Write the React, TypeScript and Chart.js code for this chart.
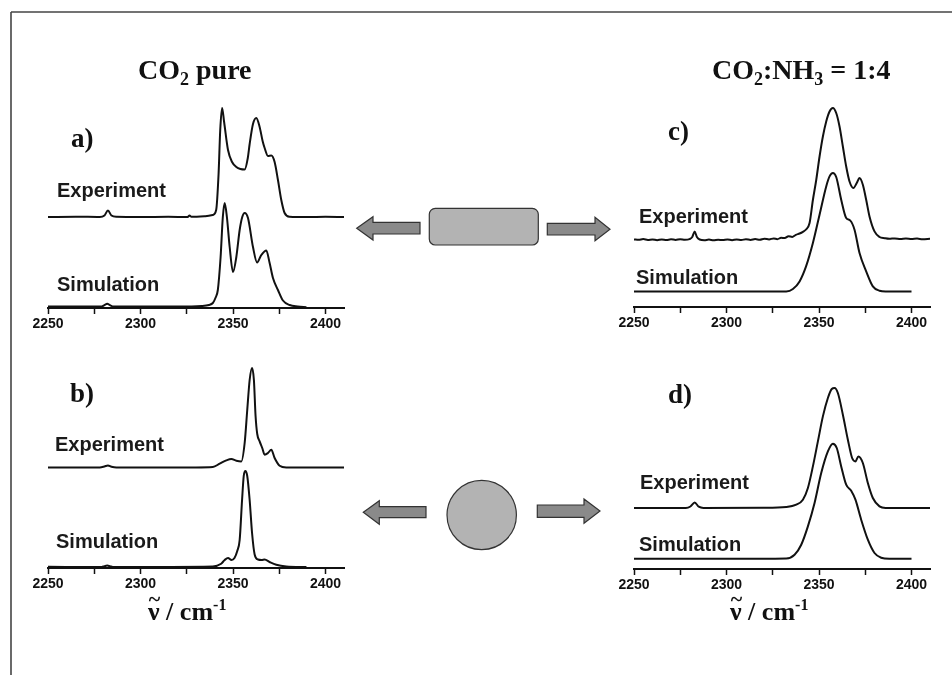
import React, { useEffect, useRef } from 'react';
import { Chart, registerables } from 'chart.js';

Chart.register(...registerables);

const FONT_SANS = '"Liberation Sans", Arial, sans-serif';
const FONT_SERIF = '"Liberation Serif", "Times New Roman", serif';

// wavenumber axis (cm-1)
const xMin = 2250;
const xMax = 2410;
const majorTicks = [2250, 2300, 2350, 2400];
const minorTicks = [2275, 2325, 2375];

type Pt = [number, number];

// a) CO2 pure, rectangular particle (intensity in arbitrary units, offset stacked)
const aExperiment: Pt[] = [
  [2250, 91], [2265, 91.3], [2278, 91], [2280.5, 92.5], [2282.4, 97.5], [2284.3, 92.5], [2287, 91.2],
  [2300, 91], [2315, 91.2], [2325.5, 91], [2326.5, 92.5], [2327.5, 91.2], [2335, 91.8], [2339, 93],
  [2340.9, 98], [2342.2, 134], [2343.1, 178], [2344.1, 200], [2345.2, 186], [2347.3, 158], [2349.5, 146],
  [2351.8, 141], [2354, 139], [2356.3, 138.5], [2358, 150], [2359, 164], [2360.8, 184], [2362.6, 190],
  [2364.4, 181], [2366, 167], [2367.1, 160], [2368.9, 152], [2370.7, 152.5], [2372.5, 146], [2374.3, 128],
  [2376.1, 108], [2377.9, 95], [2380.6, 91.3], [2390, 91], [2400, 91.2], [2410, 91],
];
const aSimulation: Pt[] = [
  [2250, 1.5], [2270, 1.5], [2279, 1.5], [2280.5, 2.8], [2282, 4.3], [2283.5, 2.8], [2285.5, 1.5],
  [2320, 1.5], [2333, 2], [2337, 3], [2339.1, 5], [2340.5, 10], [2341.8, 18], [2343.3, 51], [2344.5, 91],
  [2345.5, 105], [2346.7, 91], [2348.2, 61], [2350, 36], [2351.8, 51], [2353.6, 78], [2355, 91],
  [2356.3, 95], [2358.1, 90], [2360.8, 61], [2363, 45.5], [2365.3, 53], [2368, 57.5], [2369.8, 45],
  [2371.6, 30], [2374.3, 18], [2377, 7.5], [2380.6, 3], [2385, 1.5], [2389.7, 0.8],
];

// b) CO2 pure, spherical particle
const bExperiment: Pt[] = [
  [2250, 100.6], [2278, 100.6], [2280.5, 101.5], [2282.4, 102.5], [2284.3, 101.3], [2287, 100.6],
  [2330, 100.6], [2339.1, 101], [2342.8, 104.3], [2346.4, 107.6], [2349.1, 109], [2351.8, 107.3],
  [2354.5, 106.6], [2356.3, 125], [2357.7, 158], [2359, 188], [2360.3, 200], [2361.3, 188], [2362.2, 152],
  [2363.1, 134], [2364.4, 126.6], [2365.8, 120], [2367.1, 113.3], [2368.9, 115], [2370.7, 118.3],
  [2372.5, 110], [2375.2, 102.3], [2378.8, 100.6], [2410, 100.6],
];
const bSimulation: Pt[] = [
  [2250, 1.2], [2279, 1], [2280.5, 1.8], [2282, 2.5], [2283.5, 1.8], [2285, 1], [2339.1, 1.6],
  [2343.6, 4.3], [2345.5, 8], [2347.3, 10], [2349.2, 8], [2350.8, 10], [2352.3, 17], [2353.6, 28],
  [2354.9, 68], [2355.8, 92], [2356.7, 97], [2357.7, 92], [2359, 68], [2360.3, 35], [2361.7, 13.5],
  [2363.5, 8.5], [2365.5, 8], [2367.1, 8.5], [2369.8, 6], [2373.4, 3.3], [2378.8, 1.6], [2389.7, 1],
];

// c) CO2:NH3 = 1:4, rectangular particle
const cExperiment: Pt[] = [
  [2250, 67.6], [2252.5, 67.2], [2255, 67.9], [2257.5, 67.1], [2260, 67.6], [2262.5, 66.8], [2265, 67.5],
  [2267.5, 67.0], [2270, 67.7], [2272.5, 67.1], [2275, 67.8], [2277.5, 67.2], [2280, 67.9], [2281.5, 70],
  [2282.8, 75.5], [2284, 70], [2285.5, 67.5], [2288, 66.8], [2290.5, 67.4], [2293, 66.7], [2295.5, 67.3],
  [2298, 66.9], [2300.5, 67.6], [2303, 66.8], [2305.5, 67.5], [2308, 67.0], [2310.5, 67.8], [2313, 67.1],
  [2315.5, 67.9], [2318, 67.2], [2320.5, 68.3], [2323, 67.6], [2325.5, 68.6], [2327.5, 67.8], [2329.5, 69.2],
  [2331.5, 68.9], [2333.5, 70.8], [2335.5, 70.1], [2337.5, 72.2], [2339.5, 73.5], [2341.3, 75.2],
  [2343, 77.5], [2344.9, 84], [2346.7, 107], [2348.5, 127], [2350.3, 150.5], [2352.1, 170.5],
  [2353.9, 185.5], [2355.7, 195.5], [2357.5, 199], [2359.3, 194], [2361.1, 180.5], [2362.9, 160.5],
  [2364.7, 140.5], [2366.5, 125.5], [2368.6, 119], [2370.4, 124], [2371.9, 129], [2373.7, 122.3],
  [2375.5, 107.3], [2377.3, 90.6], [2380, 75.6], [2382.7, 70], [2385.5, 68.8], [2388, 68.2], [2391, 68.6],
  [2394, 67.9], [2397, 68.5], [2400, 68.0], [2403, 68.4], [2406, 67.8], [2410, 68.2],
];
const cSimulation: Pt[] = [
  [2250, 15.6], [2300, 15.6], [2332.3, 15.6], [2335.9, 18], [2339.5, 25.6], [2343, 40.6], [2346.7, 64],
  [2350.3, 92.3], [2353.9, 120.6], [2355.7, 130.6], [2357.5, 134], [2359.3, 130], [2362, 107.3],
  [2364.7, 89], [2366.8, 86.6], [2369.2, 77.3], [2371.9, 54], [2375.5, 35.6], [2379.1, 20.6],
  [2382.7, 16.3], [2386, 15.6], [2400, 15.6],
];

// d) CO2:NH3 = 1:4, spherical particle
const dExperiment: Pt[] = [
  [2250, 61], [2278, 61], [2280.5, 62.5], [2282.8, 66.5], [2285, 62.3], [2287.5, 61], [2320, 61.2],
  [2332.3, 62], [2337.7, 64.3], [2341.3, 69.3], [2344, 81], [2346.7, 102.6], [2349.4, 127.6],
  [2352.1, 152.6], [2354.8, 171], [2356.9, 180], [2358.4, 181], [2360.2, 176], [2362.9, 154.3],
  [2365.6, 129.3], [2367.9, 111], [2369.7, 107.6], [2371.3, 112.6], [2373.7, 106], [2376.4, 86],
  [2379.1, 71], [2382.7, 62.6], [2386, 61], [2410, 61],
];
const dSimulation: Pt[] = [
  [2250, 10.3], [2300, 10.3], [2332.3, 10.6], [2336.8, 14.3], [2340.4, 24.3], [2344, 42.6],
  [2347.6, 66], [2351.2, 96], [2354.8, 117.6], [2357.5, 125.3], [2359.6, 121], [2362, 102.6],
  [2364.7, 84.3], [2367.4, 78.3], [2369.7, 69.3], [2372.8, 49.3], [2376.4, 29.3], [2380, 16],
  [2383.6, 11.3], [2388, 10.3], [2400, 10.3],
];

const CANVAS_W = 336;
const CANVAS_H = 260;

function Panel(props: { left: number; top: number; experiment: Pt[]; simulation: Pt[] }) {
  const ref = useRef<HTMLCanvasElement | null>(null);
  useEffect(() => {
    const canvas = ref.current;
    if (!canvas) return;
    const toData = (pts: Pt[]) => pts.map(([x, y]) => ({ x, y }));
    const lineStyle = {
      borderColor: '#111',
      borderWidth: 2,
      pointRadius: 0,
      fill: false,
      cubicInterpolationMode: 'monotone' as const,
    };
    const chart = new Chart(canvas, {
      type: 'line',
      data: {
        datasets: [
          { label: 'Experiment', data: toData(props.experiment), ...lineStyle },
          { label: 'Simulation', data: toData(props.simulation), ...lineStyle },
        ],
      },
      options: {
        animation: false,
        responsive: false,
        devicePixelRatio: 1,
        layout: { padding: { left: 30, right: 10, top: 10, bottom: 0 } },
        plugins: { legend: { display: false }, tooltip: { enabled: false } },
        scales: {
          x: {
            type: 'linear',
            min: xMin,
            max: xMax,
            afterBuildTicks: (s: any) => {
              s.ticks = [...majorTicks, ...minorTicks].sort((p, q) => p - q).map((v) => ({ value: v }));
            },
            afterFit: (s: any) => {
              s.height = 30;
            },
            grid: {
              display: true,
              drawOnChartArea: false,
              drawTicks: true,
              tickLength: 6,
              tickWidth: 1.5,
              tickColor: '#111',
            },
            border: { display: true, color: '#111', width: 2 },
            ticks: {
              autoSkip: false,
              maxRotation: 0,
              padding: 2,
              color: '#111',
              font: { family: FONT_SANS, size: 14, weight: 'bold' },
              callback: (v: any) => (majorTicks.includes(Number(v)) ? String(v) : ''),
            },
          },
          y: { type: 'linear', display: false, min: 0, max: 220 },
        },
      },
    });
    return () => chart.destroy();
  }, []);
  return (
    <canvas
      ref={ref}
      width={CANVAS_W}
      height={CANVAS_H}
      style={{ position: 'absolute', left: props.left, top: props.top, width: CANVAS_W, height: CANVAS_H }}
    />
  );
}

function Arrow({ points }: { points: string }) {
  return <polygon points={points} fill="#8a8a8a" stroke="#333" strokeWidth={1.2} />;
}

function AxisTitle({ x, y }: { x: number; y: number }) {
  const serifBold = { fontFamily: FONT_SERIF, fontWeight: 700 } as const;
  return (
    <g>
      <text x={x} y={y} fontSize={26} style={serifBold} fill="#111">
        {'\u03BD / cm'}
        <tspan fontSize={16} dy={-10}>-1</tspan>
      </text>
      <text x={x + 6.5} y={y - 14} fontSize={22} textAnchor="middle" style={serifBold} fill="#111">~</text>
    </g>
  );
}

export default function App() {
  const serifBold = { fontFamily: FONT_SERIF, fontWeight: 700 } as const;
  const sansBold = { fontFamily: FONT_SANS, fontWeight: 700 } as const;
  return (
    <div
      style={{
        position: 'fixed',
        left: 0,
        top: 0,
        width: 952,
        height: 675,
        overflow: 'hidden',
        background: '#fff',
      }}
    >
      <Panel left={18} top={78} experiment={aExperiment} simulation={aSimulation} />
      <Panel left={18} top={338} experiment={bExperiment} simulation={bSimulation} />
      <Panel left={604} top={77} experiment={cExperiment} simulation={cSimulation} />
      <Panel left={604} top={339} experiment={dExperiment} simulation={dSimulation} />
      <svg
        width={952}
        height={675}
        style={{ position: 'absolute', left: 0, top: 0, pointerEvents: 'none' }}
      >
        {/* frame */}
        <line x1={11} y1={12} x2={952} y2={12} stroke="#444" strokeWidth={1.6} />
        <line x1={11} y1={12} x2={11} y2={675} stroke="#444" strokeWidth={1.6} />

        {/* titles */}
        <text x={138} y={79} fontSize={28} style={serifBold} fill="#111">
          CO<tspan fontSize={18} dy={6}>2</tspan>
          <tspan dy={-6}> pure</tspan>
        </text>
        <text x={712} y={79} fontSize={28} style={serifBold} fill="#111">
          CO<tspan fontSize={18} dy={6}>2</tspan>
          <tspan dy={-6}>:NH</tspan>
          <tspan fontSize={18} dy={6}>3</tspan>
          <tspan dy={-6}> = 1:4</tspan>
        </text>

        {/* panel letters */}
        <text x={71} y={147} fontSize={27} style={serifBold} fill="#111">a)</text>
        <text x={668} y={140} fontSize={27} style={serifBold} fill="#111">c)</text>
        <text x={70} y={402} fontSize={27} style={serifBold} fill="#111">b)</text>
        <text x={668} y={403} fontSize={27} style={serifBold} fill="#111">d)</text>

        {/* trace labels */}
        <text x={57} y={197} fontSize={20} style={sansBold} fill="#1a1a1a">Experiment</text>
        <text x={57} y={291} fontSize={20} style={sansBold} fill="#1a1a1a">Simulation</text>
        <text x={639} y={223} fontSize={20} style={sansBold} fill="#1a1a1a">Experiment</text>
        <text x={636} y={284} fontSize={20} style={sansBold} fill="#1a1a1a">Simulation</text>
        <text x={55} y={451} fontSize={20} style={sansBold} fill="#1a1a1a">Experiment</text>
        <text x={56} y={548} fontSize={20} style={sansBold} fill="#1a1a1a">Simulation</text>
        <text x={640} y={489} fontSize={20} style={sansBold} fill="#1a1a1a">Experiment</text>
        <text x={639} y={551} fontSize={20} style={sansBold} fill="#1a1a1a">Simulation</text>

        {/* axis titles */}
        <AxisTitle x={148} y={620} />
        <AxisTitle x={730} y={620} />

        {/* top: rectangle particle with arrows */}
        <Arrow points="356.7,228.3 373,216.7 373,222.3 420,222.3 420,234 373,234 373,240" />
        <rect x={429.3} y={208.3} width={109} height={36.7} rx={6} fill="#b3b3b3" stroke="#333" strokeWidth={1.2} />
        <Arrow points="547.3,223.3 595,223.3 595,217.3 610,229.3 595,240.7 595,235 547.3,235" />

        {/* bottom: spherical particle with arrows */}
        <Arrow points="363.3,512.3 379.3,500.7 379.3,506.7 426,506.7 426,517.7 379.3,517.7 379.3,524.3" />
        <circle cx={481.7} cy={515} r={34.7} fill="#b3b3b3" stroke="#333" strokeWidth={1.2} />
        <Arrow points="537.3,505 584,505 584,499 600,511 584,523.3 584,517.3 537.3,517.3" />
      </svg>
    </div>
  );
}
